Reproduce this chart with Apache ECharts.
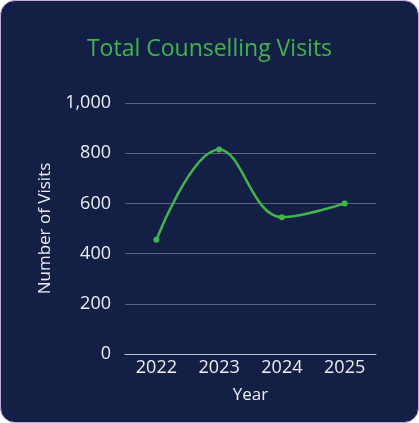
<!DOCTYPE html>
<html>
<head>
<meta charset="utf-8">
<script src="https://cdn.jsdelivr.net/npm/echarts@6/dist/echarts.min.js"></script>
<style>
html,body{margin:0;padding:0;background:#ffffff;}
#card{position:absolute;left:0;top:0;width:417px;height:421px;background:#141f45;border:1px solid #c4a6dc;border-radius:15px;overflow:hidden;}
#chart{width:417px;height:421px;}
</style>
</head>
<body>
<div id="card"><div id="chart"></div></div>
<script>
const years = ['2022', '2023', '2024', '2025'];
const visits = [455, 815, 545, 600];
const yTicks = { min: 0, max: 1000, interval: 200 };

const FONT = 'Open Sans';
const chart = echarts.init(document.getElementById('chart'));
chart.setOption({
  backgroundColor: 'transparent',
  title: {
    text: 'Total Counselling Visits',
    left: 'center',
    top: 32,
    textStyle: { color: '#3fb54a', fontSize: 23, fontWeight: 'normal', fontFamily: FONT }
  },
  grid: { left: 124, right: 42, top: 102, bottom: 68 },
  xAxis: {
    type: 'category',
    data: years,
    boundaryGap: true,
    name: 'Year',
    nameLocation: 'middle',
    nameGap: 33,
    nameTextStyle: { color: '#eeeef4', fontSize: 17, fontFamily: FONT },
    axisLine: { lineStyle: { color: '#c0c0d0', width: 1 } },
    axisTick: { show: false },
    axisLabel: { color: '#eeeef4', fontSize: 18, fontFamily: FONT, margin: 5 }
  },
  yAxis: {
    type: 'value',
    min: yTicks.min,
    max: yTicks.max,
    interval: yTicks.interval,
    name: 'Number of Visits',
    nameLocation: 'middle',
    nameGap: 71,
    nameTextStyle: { color: '#eeeef4', fontSize: 17, fontFamily: FONT },
    axisLine: { show: false },
    axisTick: { show: false },
    axisLabel: {
      color: '#eeeef4', fontSize: 18, fontFamily: FONT, margin: 14,
      formatter: v => v.toLocaleString('en-US')
    },
    splitLine: { lineStyle: { color: '#5a6482', width: 1 } }
  },
  series: [{
    type: 'line',
    data: visits,
    smooth: 0.4,
    symbol: 'circle',
    symbolSize: 6,
    itemStyle: { color: '#3fb54a' },
    lineStyle: { color: '#3fb54a', width: 2.5 }
  }]
});
</script>
</body>
</html>
